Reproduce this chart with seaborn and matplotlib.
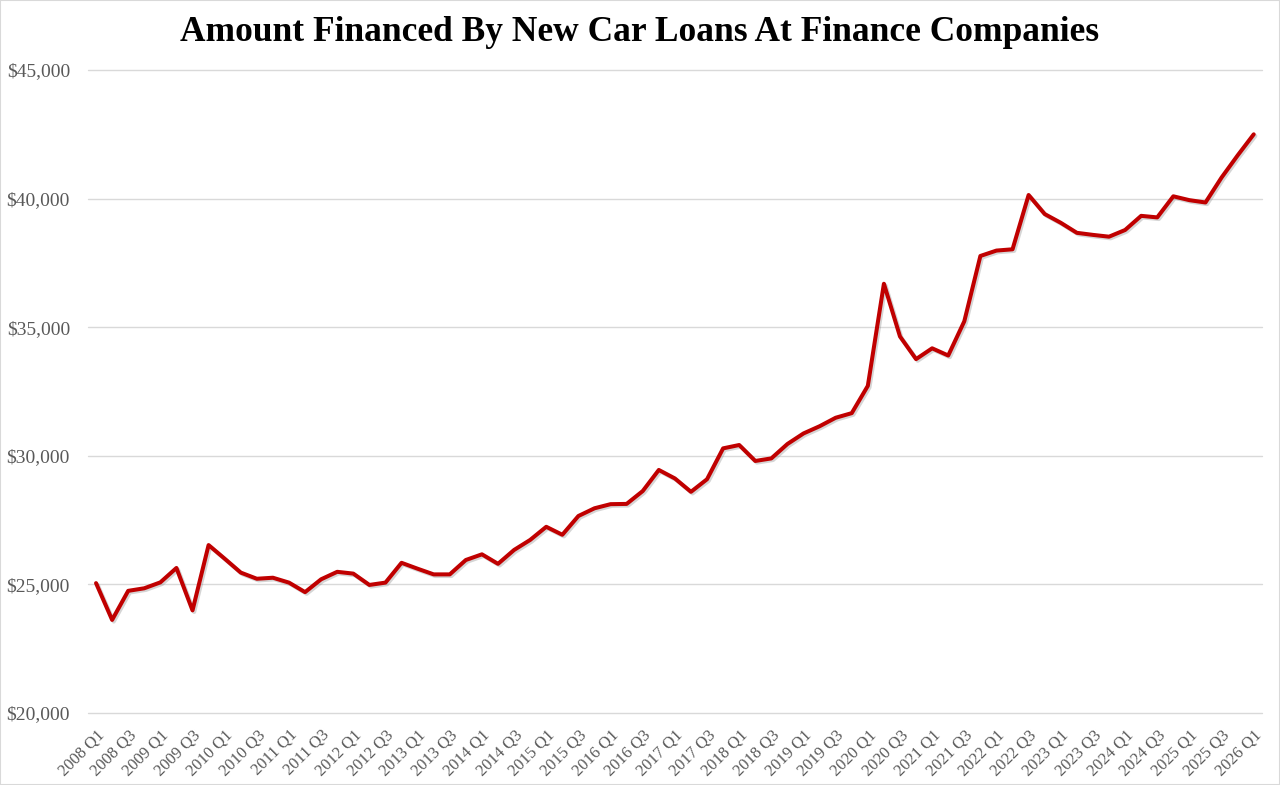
import matplotlib
matplotlib.use("Agg")
import matplotlib.pyplot as plt
import matplotlib.patheffects as pe
from matplotlib.patches import Rectangle
from matplotlib.ticker import FuncFormatter
import seaborn as sns
import pandas as pd

years = list(range(2008, 2027))
quarters = ["Q1", "Q2", "Q3", "Q4"]
labels = [f"{y} {q}" for y in years for q in quarters][:73]

amount = [
    25050, 23620, 24750, 24850,
    25080, 25640, 23990, 26530,
    26000, 25460, 25220, 25260,
    25070, 24700, 25200, 25490,
    25420, 24980, 25070, 25840,
    25610, 25390, 25390, 25950,
    26170, 25800, 26340, 26730,
    27240, 26930, 27660, 27960,
    28120, 28130, 28630, 29450,
    29120, 28600, 29090, 30290,
    30420, 29800, 29900, 30460,
    30870, 31150, 31480, 31660,
    32720, 36690, 34640, 33760,
    34180, 33900, 35230, 37770,
    37980, 38030, 40140, 39400,
    39060, 38670, 38590, 38520,
    38780, 39330, 39270, 40090,
    39940, 39850, 40820, 41680,
    42500,
]

df = pd.DataFrame({"pos": range(len(amount)), "quarter": labels, "amount": amount})

sns.set_theme(style="white")
plt.rcParams["font.family"] = ["Liberation Serif", "DejaVu Serif"]

fig = plt.figure(figsize=(12.8, 7.85), dpi=100)
ax = fig.add_axes([0.06875, 0.0917, 0.917, 0.8191])

sns.lineplot(data=df, x="pos", y="amount", ax=ax, color="#C00000", linewidth=2.9,
             path_effects=[pe.SimpleLineShadow(offset=(1.2, -1.2), shadow_color="#888888", alpha=0.35),
                           pe.Normal()])

ax.set_xlim(-0.5, len(amount) - 0.5)
ax.set_ylim(20000, 45000)
ax.set_yticks([20000, 25000, 30000, 35000, 40000, 45000])
ax.yaxis.set_major_formatter(FuncFormatter(lambda v, p: f"${v:,.0f}"))
ticks = list(range(0, len(amount), 2))
ax.set_xticks(ticks)
ax.set_xticklabels([labels[i] for i in ticks], rotation=45, ha="right",
                   rotation_mode="anchor", fontsize=12, color="#595959")
ax.tick_params(axis="y", labelsize=14, labelcolor="#595959", length=0, pad=13)
ax.tick_params(axis="x", length=0, pad=10)
ax.set_xlabel("")
ax.set_ylabel("")
ax.grid(axis="y", color="#d9d9d9", linewidth=1)
ax.grid(axis="x", visible=False)
for gl in ax.get_ygridlines():
    gl.set_clip_on(False)
for s in ax.spines.values():
    s.set_visible(False)

fig.text(0.5, 0.959, "Amount Financed By New Car Loans At Finance Companies",
         ha="center", va="center", fontsize=25.5, fontweight="bold", color="black")

fig.patches.append(Rectangle((0, 0), 1, 1, transform=fig.transFigure, fill=False,
                             edgecolor="#d9d9d9", linewidth=1.5))

fig.savefig("out.png", dpi=100)
